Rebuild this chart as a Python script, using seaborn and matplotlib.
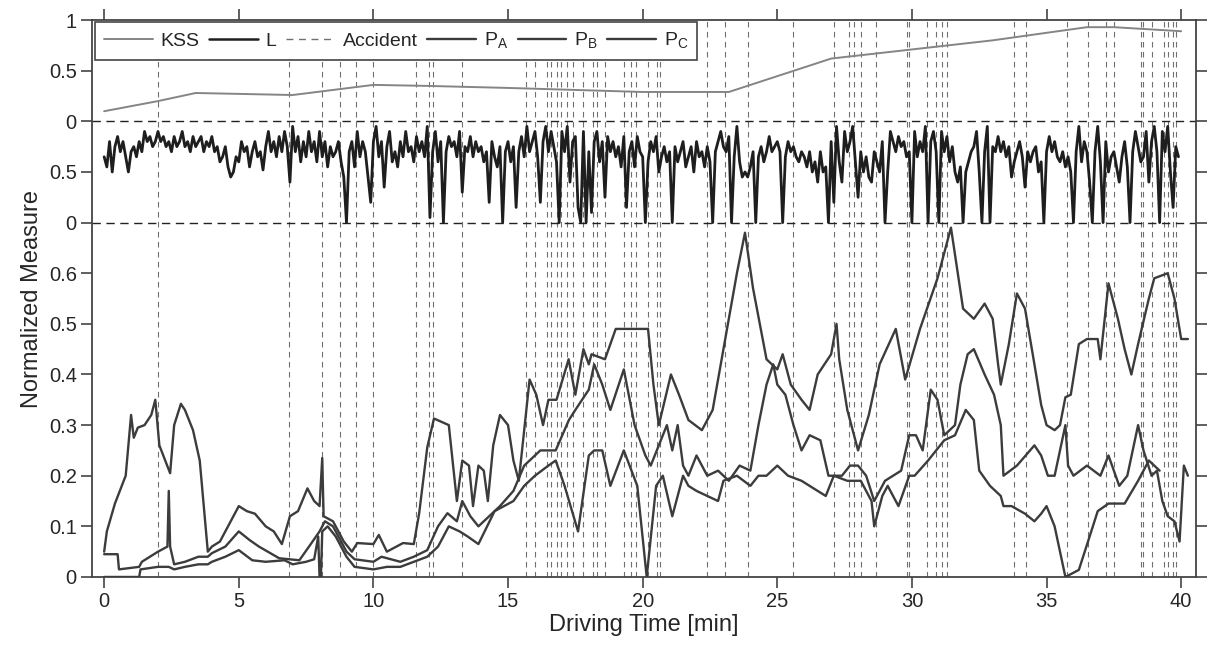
import numpy as np
import pandas as pd
import seaborn as sns
import matplotlib.pyplot as plt
from matplotlib.lines import Line2D

# KSS (top strip), normalised 0..1
kss_t = [0, 2, 3.4, 7, 10, 12, 15, 20, 23.2, 27, 30, 33, 36.5, 37.5, 40]
kss_v = [0.10, 0.20, 0.28, 0.26, 0.36, 0.35, 0.33, 0.29, 0.29, 0.62, 0.71, 0.80, 0.93, 0.93, 0.89]

# L (middle strip), depth below the upper dashed line, sampled every 0.1 min
L_step = 0.1
L_depth = [
    0.35, 0.45, 0.2, 0.5, 0.25, 0.15, 0.3, 0.2, 0.35, 0.5,
    0.3, 0.25, 0.35, 0.2, 0.3, 0.1, 0.2, 0.15, 0.25, 0.2,
    0.1, 0.2, 0.15, 0.25, 0.2, 0.3, 0.15, 0.25, 0.2, 0.1,
    0.25, 0.2, 0.3, 0.15, 0.25, 0.2, 0.15, 0.3, 0.2, 0.25,
    0.15, 0.3, 0.25, 0.4, 0.35, 0.25, 0.45, 0.55, 0.5, 0.35,
    0.4, 0.2, 0.3, 0.25, 0.45, 0.3, 0.2, 0.35, 0.3, 0.48,
    0.25, 0.1, 0.3, 0.2, 0.35, 0.15, 0.3, 0.1, 0.25, 0.6,
    0.05, 0.3, 0.15, 0.4, 0.2, 0.35, 0.1, 0.3, 0.2, 0.4,
    0.1, 0.35, 0.2, 0.45, 0.25, 0.35, 0.3, 0.2, 0.4, 0.55,
    1.0, 0.3, 0.2, 0.45, 0.1, 0.35, 0.2, 0.3, 0.55, 0.8,
    0.2, 0.05, 0.35, 0.2, 0.65, 0.25, 0.1, 0.4, 0.3, 0.45,
    0.2, 0.35, 0.1, 0.3, 0.25, 0.4, 0.15, 0.3, 0.2, 0.35,
    0.05, 0.95, 0.3, 0.1, 0.4, 0.2, 1.0, 0.3, 0.15, 0.25,
    0.2, 0.35, 0.1, 0.7, 0.25, 0.3, 0.15, 0.35, 0.2, 0.3,
    0.25, 0.4, 0.3, 0.8, 0.2, 0.35, 0.45, 0.25, 1.0, 0.3,
    0.2, 0.4, 0.25, 0.85, 0.3, 0.15, 0.35, 0.05, 0.3, 0.2,
    0.1, 0.35, 0.8, 0.2, 0.05, 0.3, 0.1, 0.25, 0.4, 1.0,
    0.1, 0.3, 0.05, 0.6, 0.2, 0.15, 0.85, 1.0, 0.1, 1.0,
    0.3, 0.9, 0.2, 0.1, 0.4, 0.2, 0.75, 0.15, 0.3, 0.2,
    0.35, 0.25, 0.45, 0.15, 0.85, 0.3, 0.2, 0.45, 0.15, 0.3,
    0.35, 1.0, 0.4, 0.2, 0.3, 0.15, 0.5, 0.35, 0.25, 0.4,
    0.3, 1.0, 0.25, 0.4, 0.3, 0.2, 0.45, 0.35, 0.25, 0.5,
    0.2, 0.35, 0.3, 0.45, 0.25, 0.4, 1.0, 0.3, 0.2, 0.1,
    0.25, 0.3, 0.15, 1.0, 0.35, 0.05, 0.4, 0.55, 0.5, 0.55,
    0.45, 0.3, 1.0, 0.35, 0.25, 0.4, 0.3, 0.15, 0.3, 0.25,
    0.2, 0.3, 1.0, 0.35, 0.2, 0.3, 0.25, 0.35, 0.4, 0.3,
    0.35, 0.45, 0.3, 0.5, 0.4, 0.6, 0.3, 0.5, 0.45, 1.0,
    0.2, 0.8, 0.05, 0.4, 0.6, 0.1, 0.3, 0.2, 0.05, 0.4,
    0.75, 0.3, 0.5, 0.35, 0.55, 0.6, 0.3, 0.4, 0.5, 0.2,
    1.0, 0.5, 0.1, 0.2, 0.3, 0.15, 0.25, 0.2, 0.35, 0.3,
    1.0, 0.1, 0.35, 0.2, 0.3, 0.05, 1.0, 0.2, 0.1, 0.3,
    1.0, 0.1, 0.3, 0.15, 0.4, 0.25, 0.5, 0.6, 0.45, 1.0,
    0.5, 0.4, 0.3, 0.25, 0.1, 0.5, 1.0, 0.3, 0.05, 1.0,
    0.25, 0.3, 0.15, 0.3, 0.2, 0.35, 0.25, 0.55, 0.4, 0.3,
    0.2, 0.35, 0.65, 0.3, 0.4, 0.3, 0.25, 0.5, 0.4, 1.0,
    0.3, 0.15, 0.3, 0.2, 0.35, 0.4, 0.3, 0.45, 0.35, 0.5,
    1.0, 0.3, 0.05, 0.4, 0.2, 0.3, 0.6, 1.0, 0.3, 0.05,
    0.4, 1.0, 0.2, 0.5, 0.35, 0.3, 0.45, 0.6, 0.35, 0.2,
    0.45, 1.0, 0.3, 0.1, 0.25, 0.4, 0.35, 0.1, 0.6, 0.2,
    0.05, 0.3, 1.0, 0.1, 0.3, 0.05, 0.5, 0.85, 0.25, 0.35,
]

# accident times [min]
accidents = [2.0, 6.85, 8.1, 8.77, 9.37, 10.0, 11.6, 12.05, 12.2, 13.3,
             15.65, 16.0, 16.45, 16.6, 16.8, 16.95, 17.2, 17.4, 17.8, 18.15,
             18.3, 18.6, 19.3, 19.55, 19.75, 20.2, 20.55, 20.65, 22.4, 23.05,
             23.9, 25.6, 27.1, 27.65, 27.85, 28.1, 28.65, 29.8, 29.9, 30.55,
             30.9, 31.1, 31.3, 33.8, 34.25, 35.75, 36.55, 37.2, 37.5, 38.5,
             38.6, 38.9, 39.35, 39.5, 39.7, 39.8]

# P curves (bottom strip)
pa_t = [0.0, 0.1, 0.4, 0.8, 1.0, 1.1, 1.25, 1.5, 1.75, 1.9, 2.05, 2.45, 2.6, 2.85,
        3.0, 3.3, 3.55, 3.85, 4.0, 4.3, 4.6, 5.0, 5.3, 5.6, 6.0, 6.3, 6.6, 6.9,
        7.2, 7.55, 7.8, 8.0, 8.1, 8.15, 8.5, 8.9, 9.2, 9.4, 10.0, 10.2, 10.5, 11.1,
        11.5, 11.7, 12.0, 12.25, 12.8, 13.0, 13.1, 13.3, 13.55, 13.7, 13.9, 14.1,
        14.25, 14.45, 14.7, 15.0, 15.2, 15.4, 15.8, 16.05, 16.3, 16.5, 16.8, 17.25,
        17.5, 17.8, 18.0, 18.1, 18.6, 19.0, 20.2, 20.4, 20.6, 21.05, 21.35, 21.7,
        22.2, 22.6, 23.1, 23.5, 23.8, 24.1, 24.6, 25.0, 25.2, 25.5, 25.9, 26.2,
        26.5, 27.0, 27.2, 27.3, 27.6, 28.0, 28.4, 28.8, 29.4, 29.75, 30.3, 30.95,
        31.45, 31.9, 32.3, 32.7, 33.0, 33.2, 33.3, 33.6, 33.9, 34.2, 34.55, 34.8,
        35.0, 35.3, 35.5, 35.7, 35.9, 36.2, 36.5, 36.9, 37.0, 37.3, 37.65, 37.9,
        38.15, 38.4, 38.8, 39.0, 39.5, 39.75, 40.0, 40.25]
pa_v = [0.05, 0.09, 0.145, 0.2, 0.32, 0.275, 0.295, 0.30, 0.32, 0.35, 0.26, 0.205, 0.30, 0.342,
        0.33, 0.29, 0.23, 0.05, 0.06, 0.07, 0.10, 0.14, 0.13, 0.125, 0.10, 0.09, 0.065, 0.12,
        0.13, 0.175, 0.15, 0.14, 0.235, 0.12, 0.11, 0.07, 0.05, 0.067, 0.065, 0.083, 0.05, 0.067,
        0.065, 0.126, 0.256, 0.313, 0.30, 0.20, 0.15, 0.23, 0.22, 0.14, 0.22, 0.21,
        0.15, 0.26, 0.32, 0.30, 0.23, 0.19, 0.39, 0.36, 0.30, 0.35, 0.35, 0.43,
        0.36, 0.45, 0.42, 0.44, 0.43, 0.49, 0.49, 0.38, 0.30, 0.40, 0.36, 0.31,
        0.29, 0.33, 0.48, 0.60, 0.68, 0.57, 0.43, 0.41, 0.44, 0.38, 0.35, 0.33,
        0.40, 0.44, 0.50, 0.43, 0.33, 0.25, 0.32, 0.42, 0.49, 0.39, 0.49, 0.59,
        0.69, 0.53, 0.51, 0.54, 0.51, 0.42, 0.38, 0.46, 0.56, 0.53, 0.42, 0.34,
        0.30, 0.29, 0.30, 0.355, 0.36, 0.46, 0.47, 0.47, 0.43, 0.58, 0.51, 0.45,
        0.40, 0.46, 0.55, 0.59, 0.60, 0.55, 0.47, 0.47]

pb_t = [0.0, 0.5, 0.55, 1.3, 1.4, 2.0, 2.35, 2.4, 2.45, 2.6, 3.0, 3.5, 3.85, 4.0,
        4.5, 5.0, 5.4, 5.75, 6.5, 7.25, 7.7, 8.0, 8.2, 8.5, 9.0, 9.3, 10.0, 10.3,
        11.0, 11.5, 12.0, 12.4, 12.75, 13.1, 13.3, 13.6, 13.9, 14.3, 14.7, 15.2,
        15.6, 16.2, 16.77, 17.26, 17.5, 18.0, 18.2, 18.5, 18.8, 19.3, 19.7, 20.1,
        20.3, 20.6, 20.9, 21.1, 21.3, 21.5, 21.7, 22.0, 22.4, 22.8, 23.2, 23.6,
        24.0, 24.3, 24.6, 24.85, 25.0, 25.3, 25.6, 25.9, 26.2, 26.6, 26.9, 27.4,
        27.7, 28.0, 28.3, 28.6, 29.0, 29.3, 29.6, 29.9, 30.15, 30.4, 30.7, 30.95,
        31.2, 31.6, 31.8, 32.07, 32.3, 32.7, 33.05, 33.3, 33.4, 33.9, 34.55, 34.8,
        35.05, 35.3, 35.5, 35.7, 35.8, 36.0, 36.5, 37.0, 37.3, 37.7, 38.0, 38.4,
        38.6, 38.9, 39.1, 39.3, 39.5, 39.75, 39.94, 40.1, 40.25]
pb_v = [0.045, 0.045, 0.015, 0.02, 0.03, 0.05, 0.06, 0.17, 0.06, 0.025, 0.03, 0.04, 0.04, 0.047,
        0.06, 0.09, 0.073, 0.06, 0.037, 0.033, 0.067, 0.09, 0.11, 0.10, 0.05, 0.035, 0.03, 0.04,
        0.03, 0.04, 0.053, 0.10, 0.126, 0.11, 0.15, 0.12, 0.10, 0.12, 0.14, 0.17,
        0.22, 0.25, 0.25, 0.31, 0.33, 0.37, 0.42, 0.38, 0.33, 0.41, 0.30, 0.24,
        0.22, 0.26, 0.30, 0.25, 0.30, 0.22, 0.20, 0.24, 0.20, 0.21, 0.19, 0.22,
        0.21, 0.30, 0.38, 0.42, 0.38, 0.36, 0.30, 0.25, 0.28, 0.27, 0.20, 0.20,
        0.22, 0.22, 0.20, 0.15, 0.19, 0.20, 0.21, 0.28, 0.28, 0.25, 0.37, 0.35,
        0.28, 0.30, 0.38, 0.44, 0.45, 0.40, 0.36, 0.30, 0.20, 0.22, 0.26, 0.24,
        0.20, 0.20, 0.25, 0.30, 0.22, 0.20, 0.22, 0.20, 0.24, 0.18, 0.20, 0.30,
        0.25, 0.20, 0.21, 0.15, 0.12, 0.11, 0.07, 0.22, 0.20]

pc_t = [0.0, 1.3, 1.35, 2.0, 2.4, 2.6, 3.0, 3.5, 3.85, 4.0, 4.5, 5.0, 5.5, 6.0,
        6.7, 7.0, 7.5, 7.8, 7.95, 8.0, 8.05, 8.1, 8.3, 8.6, 9.0, 9.3, 10.0, 10.5,
        11.0, 11.5, 12.0, 12.4, 12.8, 13.2, 13.5, 13.9, 14.5, 15.2, 15.6, 16.0,
        16.5, 16.77, 17.1, 17.6, 18.0, 18.2, 18.5, 18.8, 19.3, 19.8, 20.15, 20.5,
        20.75, 21.1, 21.5, 21.7, 22.0, 22.4, 22.8, 23.0, 23.5, 24.0, 24.3, 24.6,
        25.0, 25.4, 25.9, 26.2, 26.8, 27.1, 27.6, 28.1, 28.5, 28.6, 28.9, 29.1,
        29.5, 29.9, 30.1, 30.6, 31.2, 31.6, 32.0, 32.3, 32.5, 32.9, 33.3, 33.4,
        33.7, 34.2, 34.55, 34.8, 35.0, 35.3, 35.7, 36.2, 36.6, 36.9, 37.3, 37.9,
        38.4, 38.8, 39.2]
pc_v = [0.0, 0.0, 0.015, 0.02, 0.02, 0.015, 0.02, 0.025, 0.025, 0.03, 0.04, 0.053, 0.033, 0.03,
        0.033, 0.025, 0.03, 0.035, 0.08, 0.0, 0.0, 0.09, 0.10, 0.08, 0.04, 0.02, 0.015, 0.02,
        0.02, 0.03, 0.04, 0.06, 0.10, 0.09, 0.08, 0.065, 0.13, 0.15, 0.18, 0.20,
        0.22, 0.23, 0.18, 0.09, 0.24, 0.25, 0.25, 0.18, 0.25, 0.18, 0.0, 0.18,
        0.20, 0.12, 0.20, 0.18, 0.17, 0.16, 0.15, 0.19, 0.20, 0.18, 0.20, 0.20,
        0.22, 0.20, 0.19, 0.18, 0.16, 0.20, 0.19, 0.19, 0.15, 0.10, 0.16, 0.18,
        0.14, 0.20, 0.20, 0.23, 0.27, 0.28, 0.33, 0.31, 0.21, 0.18, 0.16, 0.14,
        0.14, 0.125, 0.11, 0.125, 0.14, 0.10, 0.0, 0.014, 0.08, 0.13, 0.145, 0.145,
        0.19, 0.23, 0.21]

y_ticks = [0, 0.1, 0.2, 0.3, 0.4, 0.5, 0.6, 0.7, 0.8, 0.9, 1.0, 1.1]
y_labels = ['0', '0.1', '0.2', '0.3', '0.4', '0.5', '0.6', '0', '0.5', '0', '0.5', '1']
x_ticks = [0, 5, 10, 15, 20, 25, 30, 35, 40]

# strip layout of the stacked axis
P_TOP = 0.7
STRIP = 0.2


def main():
    sns.set_theme(style="ticks")
    plt.rcParams['font.family'] = ['Liberation Sans', 'DejaVu Sans']

    fig = plt.figure(figsize=(12.11, 6.48), dpi=100)
    ax = fig.add_axes([0.076, 0.1096, 0.9116, 0.8594])

    for t in accidents:
        ax.axvline(t, color='#707070', lw=0.8, ls=(0, (5, 4)), zorder=1)

    for y in [P_TOP, P_TOP + STRIP]:
        ax.axhline(y, color='#222222', lw=1.0, ls=(0, (6, 4)), zorder=2)

    kss = pd.DataFrame({'t': kss_t, 'y': P_TOP + STRIP + STRIP * np.array(kss_v)})
    sns.lineplot(data=kss, x='t', y='y', ax=ax, color='#858585', lw=1.4,
                 estimator=None, sort=False, zorder=3)

    L_t = np.arange(len(L_depth)) * L_step
    lvals = P_TOP + STRIP - STRIP * np.array(L_depth)
    sns.lineplot(x=L_t, y=lvals, ax=ax, color='#1e1e1e', lw=2.0,
                 estimator=None, sort=False, zorder=4)

    p_color = '#3c3c3c'
    for tt, vv in [(pa_t, pa_v), (pb_t, pb_v), (pc_t, pc_v)]:
        sns.lineplot(x=tt, y=vv, ax=ax, color=p_color, lw=1.7,
                     estimator=None, sort=False, zorder=4)

    ax.set_xlim(-0.45, 40.55)
    ax.set_ylim(0, 1.1)
    ax.set_xticks(x_ticks)
    ax.set_xticklabels([str(x) for x in x_ticks])
    ax.set_yticks(y_ticks)
    ax.set_yticklabels(y_labels)
    ax.tick_params(axis='both', which='both', direction='out', length=8, width=1.2,
                   color='#444444', top=True, right=True, labelsize=14.5, pad=3)
    for side in ['left', 'right', 'top', 'bottom']:
        ax.spines[side].set_visible(True)
        ax.spines[side].set_color('#444444')
        ax.spines[side].set_linewidth(1.3)

    ax.set_xlabel('Driving Time [min]', fontsize=17, labelpad=2)
    ax.set_ylabel('Normalized Measure', fontsize=17, labelpad=4)

    handles = [
        Line2D([], [], color='#858585', lw=1.4),
        Line2D([], [], color='#1e1e1e', lw=1.8),
        Line2D([], [], color='#707070', lw=1.0, ls=(0, (5, 4))),
        Line2D([], [], color=p_color, lw=1.7),
        Line2D([], [], color=p_color, lw=1.7),
        Line2D([], [], color=p_color, lw=1.7),
    ]
    labels = ['KSS', 'L', 'Accident', 'P$_\\mathregular{A}$', 'P$_\\mathregular{B}$', 'P$_\\mathregular{C}$']
    leg = ax.legend(handles, labels, loc='upper left', bbox_to_anchor=(0.003, 0.997),
                    ncol=6, fontsize=14, frameon=True, fancybox=False, framealpha=1,
                    edgecolor='#444444', handlelength=2.5, handletextpad=0.4,
                    columnspacing=0.5, borderpad=0.45, borderaxespad=0.0)
    leg.get_frame().set_linewidth(1.2)
    leg.set_zorder(10)

    fig.savefig('out.png', dpi=100)


if __name__ == '__main__':
    main()
